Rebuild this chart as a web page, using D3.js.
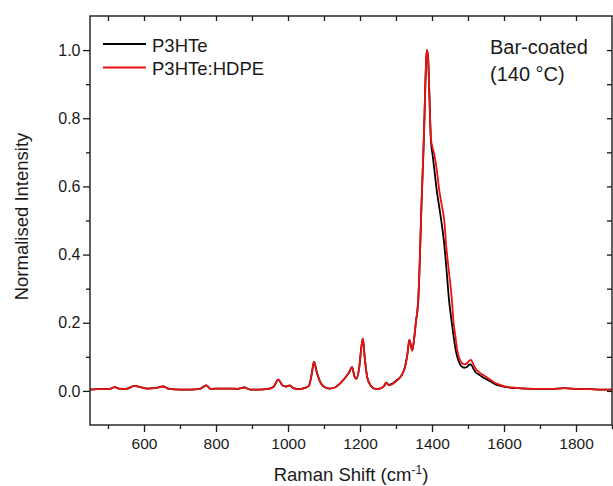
<!DOCTYPE html>
<html><head><meta charset="utf-8">
<script src="https://cdn.jsdelivr.net/npm/d3@7"></script>
<style>
html,body{margin:0;padding:0;background:#fff;}
svg text{font-family:"Liberation Sans",Arial,Helvetica,sans-serif;fill:#1a1a1a;}
</style></head>
<body><svg id="c" width="613" height="486"></svg>
<script>
// Raman shift (cm^-1)
const shift = [450,470,490,505,519,530,550,574,590,610,630,653,670,700,730,755,773,785,810,840,860,879,895,920,945,960,973,985,995,1005,1015,1030,1045,1058,1066,1072,1080,1090,1100,1115,1130,1145,1160,1170,1178,1184,1190,1198,1204,1208,1213,1220,1230,1242,1255,1266,1273,1280,1287,1300,1315,1325,1332,1337,1341,1345,1350,1355,1362,1366,1370,1374,1378,1381,1384,1386,1389,1393,1397,1402,1407,1413,1420,1427,1434,1440,1447,1455,1460,1465,1470,1476,1482,1490,1497,1503,1508,1514,1522,1530,1540,1555,1570,1585,1602,1620,1640,1660,1700,1730,1768,1800,1840,1870,1900];
// P3HTe:HDPE (red)
const hdpe = [0.004,0.005,0.005,0.006,0.011,0.007,0.006,0.015,0.011,0.007,0.008,0.013,0.006,0.004,0.004,0.006,0.016,0.006,0.007,0.007,0.006,0.010,0.004,0.004,0.006,0.012,0.033,0.016,0.013,0.016,0.008,0.005,0.008,0.015,0.050,0.086,0.055,0.025,0.012,0.007,0.010,0.022,0.040,0.055,0.070,0.045,0.036,0.070,0.130,0.153,0.100,0.040,0.015,0.006,0.007,0.013,0.024,0.016,0.018,0.028,0.045,0.070,0.110,0.150,0.135,0.118,0.150,0.200,0.270,0.380,0.520,0.640,0.760,0.880,0.975,1.000,0.980,0.860,0.740,0.712,0.690,0.650,0.590,0.545,0.500,0.420,0.350,0.270,0.200,0.160,0.120,0.095,0.083,0.078,0.081,0.088,0.091,0.080,0.064,0.056,0.048,0.038,0.027,0.019,0.013,0.010,0.008,0.007,0.006,0.006,0.008,0.006,0.005,0.004,0.004];
// P3HTe (black)
const p3hte = [0.004,0.005,0.005,0.006,0.011,0.007,0.006,0.015,0.011,0.007,0.008,0.013,0.006,0.004,0.004,0.006,0.016,0.006,0.007,0.007,0.006,0.010,0.004,0.004,0.006,0.012,0.033,0.016,0.013,0.016,0.008,0.005,0.008,0.015,0.050,0.086,0.055,0.025,0.012,0.007,0.010,0.022,0.040,0.055,0.070,0.045,0.036,0.070,0.130,0.153,0.100,0.040,0.015,0.006,0.007,0.013,0.024,0.018,0.020,0.030,0.045,0.070,0.110,0.150,0.135,0.118,0.150,0.200,0.270,0.380,0.520,0.640,0.760,0.880,0.975,1.000,0.980,0.860,0.735,0.690,0.645,0.590,0.540,0.490,0.430,0.360,0.270,0.200,0.160,0.125,0.100,0.082,0.072,0.068,0.070,0.077,0.078,0.067,0.054,0.048,0.041,0.032,0.023,0.016,0.012,0.009,0.008,0.007,0.006,0.006,0.008,0.006,0.005,0.004,0.004];

const xMajor = [600,800,1000,1200,1400,1600,1800];
const xMinor = [500,700,900,1100,1300,1500,1700,1900];
const xAll = [500,600,700,800,900,1000,1100,1200,1300,1400,1500,1600,1700,1800];
const yMajor = [0.0,0.2,0.4,0.6,0.8,1.0];
const yMinor = [0.1,0.3,0.5,0.7,0.9];
const yAll = [0.0,0.1,0.2,0.3,0.4,0.5,0.6,0.7,0.8,0.9,1.0];

const series = [
  {name:"P3HTe", values:p3hte, color:"#000000"},
  {name:"P3HTe:HDPE", values:hdpe, color:"#ee1111"}
];

const L=90,R=612,T=16,B=425;
const svg = d3.select("#c");
const x = d3.scaleLinear().domain([450,1900]).range([L,R]);
const y = d3.scaleLinear().domain([-0.1,1.1]).range([B,T]);

svg.append("defs").append("clipPath").attr("id","clip")
  .append("rect").attr("x",L).attr("y",T).attr("width",R-L).attr("height",B-T);

const line = d3.line().x((d,i)=>x(shift[i])).y(d=>y(d)).curve(d3.curveMonotoneX);
svg.append("g").attr("clip-path","url(#clip)").selectAll("path").data(series).join("path")
  .attr("d",d=>line(d.values)).attr("fill","none").attr("stroke",d=>d.color)
  .attr("stroke-width",1.8).attr("stroke-linejoin","round");

function styleAxis(g){ g.select(".domain").remove(); g.selectAll("line").attr("stroke","#1a1a1a").attr("stroke-width",1.3); g.selectAll("text").attr("fill","#1a1a1a"); }

// bottom
svg.append("g").attr("transform",`translate(0,${B})`)
  .call(d3.axisBottom(x).tickValues(xMajor).tickSize(7).tickPadding(6).tickFormat(d3.format("d")))
  .call(styleAxis).call(g=>g.selectAll("text").style("font-size","15.5px").attr("font-family",null));
svg.append("g").attr("transform",`translate(0,${B})`)
  .call(d3.axisBottom(x).tickValues(xMinor).tickSize(4).tickFormat("")).call(styleAxis);
// top (inward)
svg.append("g").attr("transform",`translate(0,${T})`)
  .call(d3.axisBottom(x).tickValues(xAll).tickSize(5).tickFormat("")).call(styleAxis);
// left
svg.append("g").attr("transform",`translate(${L},0)`)
  .call(d3.axisLeft(y).tickValues(yMajor).tickSize(7).tickPadding(2.5).tickFormat(d3.format(".1f")))
  .call(styleAxis).call(g=>g.selectAll("text").style("font-size","16px").attr("font-family",null));
svg.append("g").attr("transform",`translate(${L},0)`)
  .call(d3.axisLeft(y).tickValues(yMinor).tickSize(4).tickFormat("")).call(styleAxis);
// right (inward)
svg.append("g").attr("transform",`translate(${R},0)`)
  .call(d3.axisLeft(y).tickValues(yAll).tickSize(5).tickFormat("")).call(styleAxis);

// frame
svg.append("rect").attr("x",L).attr("y",T).attr("width",R-L).attr("height",B-T)
  .attr("fill","none").attr("stroke","#1a1a1a").attr("stroke-width",1.4);

// legend
const lg = svg.append("g");
series.forEach((s,i)=>{
  const yy = 44 + i*23.5;
  lg.append("line").attr("x1",103).attr("x2",146).attr("y1",yy).attr("y2",yy)
    .attr("stroke",s.color).attr("stroke-width",1.8);
  lg.append("text").attr("x",152).attr("y",yy+7.5).style("font-size","18.5px").text(s.name);
});

// annotation
svg.append("text").attr("x",490).attr("y",54).style("font-size","20px").text("Bar-coated");
svg.append("text").attr("x",490).attr("y",81).style("font-size","20px").text("(140 °C)");

// axis titles
const xt = svg.append("text").attr("x",(L+R)/2).attr("y",481).attr("text-anchor","middle").style("font-size","18.5px");
xt.append("tspan").text("Raman Shift (cm");
xt.append("tspan").attr("dy",-7).style("font-size","12px").text("-1");
xt.append("tspan").attr("dy",7).text(")");

svg.append("text").attr("transform",`translate(28,${(T+B)/2 - 4}) rotate(-90)`)
  .attr("text-anchor","middle").style("font-size","18.5px").text("Normalised Intensity");
</script></body></html>
